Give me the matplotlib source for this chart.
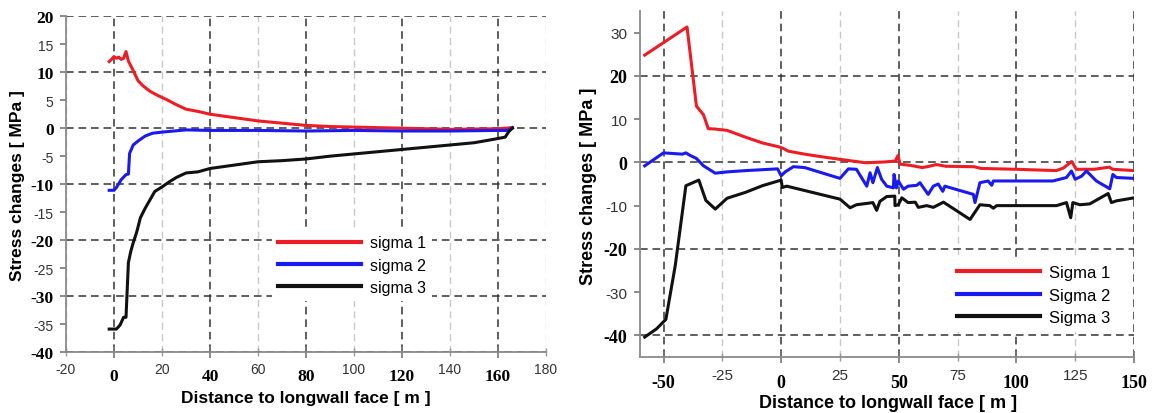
import matplotlib
matplotlib.use('Agg')
from matplotlib import pyplot as plt
from matplotlib.lines import Line2D
import numpy as np

# ---- left panel data (distance in m, stress change in MPa)
left_s1_x = [-2, -1, 0, 1, 2, 3, 4, 5, 6, 8, 10, 12, 15, 18, 22, 26, 30, 35, 40, 50, 60, 70, 80, 90, 100, 120, 140, 160, 166]
left_s1_y = [11.9, 12.3, 12.8, 12.5, 12.7, 12.3, 12.5, 13.7, 12.0, 10.3, 8.5, 7.6, 6.6, 5.9, 5.1, 4.2, 3.4, 3.0, 2.5, 1.9, 1.3, 0.9, 0.5, 0.3, 0.2, 0.0, -0.2, -0.1, 0.1]

left_s2_x = [-2, 0, 1, 3, 5, 6, 6.5, 8, 10, 13, 16, 20, 25, 30, 40, 60, 80, 100, 120, 140, 160, 164, 166]
left_s2_y = [-11.1, -11.1, -10.6, -9.2, -8.3, -8.2, -4.5, -3.0, -2.3, -1.4, -0.9, -0.7, -0.5, -0.3, -0.4, -0.4, -0.5, -0.4, -0.5, -0.5, -0.4, -0.4, 0.1]

left_s3_x = [-2, 1, 2.5, 4, 5, 6, 7, 8, 9.5, 11, 13, 15, 17, 20, 23, 26, 30, 35, 40, 50, 60, 70, 80, 90, 100, 110, 120, 130, 140, 150, 158, 163, 164.5, 166]
left_s3_y = [-35.9, -35.9, -35.2, -33.8, -33.8, -24, -22, -20.5, -18.5, -16, -14.3, -12.8, -11.3, -10.5, -9.6, -8.8, -8.0, -7.8, -7.2, -6.6, -6.0, -5.8, -5.5, -5.0, -4.6, -4.2, -3.8, -3.4, -3.0, -2.6, -2.0, -1.6, -0.6, 0.0]

left_labels = ['sigma 1', 'sigma 2', 'sigma 3']

# ---- right panel data
right_s1_x = [-58, -40, -36, -33, -31, -28, -23, -15, -8, -1, 1, 3, 10, 16, 25, 36, 44, 48.5, 49.7, 50.5, 55, 60, 63, 66, 70, 82, 85, 100, 117, 120, 123.5, 125.5, 133, 139.5, 141, 150]
right_s1_y = [24.8, 31.3, 13.0, 11.0, 7.8, 7.7, 7.4, 5.8, 4.5, 3.6, 3.2, 2.6, 1.9, 1.4, 0.7, -0.1, 0.1, 0.3, 1.6, -0.4, -0.7, -1.2, -0.9, -0.5, -0.9, -1.0, -1.4, -1.6, -1.9, -1.3, 0.2, -1.6, -1.6, -1.1, -1.6, -1.9]

right_s2_x = [-58, -50, -42, -40.5, -39, -36, -33, -28, -23, -15, -1.5, 0, 1.7, 5.2, 10, 25, 28.6, 32, 36.4, 37.8, 39, 40.9, 42.7, 44.9, 47.7, 48, 49, 49.8, 52, 54, 57.7, 59, 62.5, 64.7, 66.8, 68.7, 69.6, 81.7, 82.4, 84.5, 88, 89.5, 90.2, 115.5, 121.3, 123.4, 125, 127.7, 129.8, 134, 139.7, 141, 142.5, 150]
right_s2_y = [-0.8, 2.2, 1.9, 2.2, 1.7, 0.9, -0.8, -2.5, -2.2, -1.9, -1.5, -3.1, -2.2, -1.0, -1.2, -3.7, -1.5, -1.6, -5.5, -2.4, -4.7, -1.2, -3.9, -5.5, -5.9, -2.8, -5.9, -4.3, -6.2, -5.5, -5.3, -4.7, -7.4, -5.5, -5.0, -6.7, -5.5, -7.4, -9.3, -4.7, -4.3, -5.3, -4.3, -4.3, -3.5, -2.0, -3.9, -3.2, -2.0, -4.3, -6.1, -2.8, -3.5, -3.7]

right_s3_x = [-58, -53, -49, -45, -40.5, -35, -32, -28, -23, -15, -8, 0, 0.5, 2.4, 25, 29.3, 32, 39, 40.6, 42, 44.9, 48.3, 48.4, 49.8, 51.3, 54, 57, 58.3, 61.9, 64.7, 69, 80.3, 84.5, 88.7, 90.2, 91.6, 117, 121.3, 123.1, 124, 127, 131.2, 139, 140.4, 142.5, 150]
right_s3_y = [-40.4, -38.5, -36.3, -23.8, -5.4, -4.1, -8.8, -10.8, -8.3, -6.9, -5.4, -4.1, -5.8, -5.5, -8.5, -10.5, -9.8, -9.3, -11.1, -9.0, -7.9, -7.8, -10.0, -9.8, -8.2, -9.3, -9.2, -10.4, -10.0, -10.4, -9.2, -13.2, -9.8, -10.0, -10.6, -10.0, -10.0, -9.3, -12.8, -9.3, -9.8, -9.6, -7.2, -9.3, -8.9, -8.2]

right_labels = ['Sigma 1', 'Sigma 2', 'Sigma 3']

colors = ['#ee1c24', '#1a1af0', '#111111']

SANS = ['Liberation Sans', 'DejaVu Sans']
SERIF = ['Liberation Serif', 'DejaVu Serif']

fig = plt.figure(figsize=(11.55, 4.14), dpi=100)
ax1 = fig.add_axes([66/1155, 61/414, 480/1155, 335.7/414])
ax2 = fig.add_axes([640/1155, 56/414, 494/1155, 346/414])


def style_axes(ax, xmaj, xmin, ymaj, ymin, xlim, ylim, bold_size, sans_size, pads):
    ax.set_xlim(xlim)
    ax.set_ylim(ylim)
    for s in ['top', 'right']:
        ax.spines[s].set_visible(False)
    for s in ['left', 'bottom']:
        ax.spines[s].set_color('#8a8a8a')
        ax.spines[s].set_linewidth(1.3)
    ax.set_xticks(xmaj, [str(v) for v in xmaj], family=SERIF, weight='bold', size=bold_size)
    ax.set_xticks(xmin, [str(v) for v in xmin], minor=True, family=SANS, size=sans_size, color='#333333')
    ax.set_yticks(ymaj, [str(v) for v in ymaj], family=SERIF, weight='bold', size=bold_size)
    ax.set_yticks(ymin, [str(v) for v in ymin], minor=True, family=SANS, size=sans_size, color='#333333')
    ax.tick_params(axis='x', which='major', direction='inout', length=9, width=1.2, color='#777777', pad=pads[0])
    ax.tick_params(axis='x', which='minor', direction='inout', length=6, width=1.0, color='#999999', pad=pads[1])
    ax.tick_params(axis='y', which='both', direction='out', length=4, width=1.2, color='#777777', pad=5)
    ax.grid(which='major', color='#333333', linestyle=(0, (5, 3.2)), linewidth=1.1)
    ax.xaxis.grid(which='minor', color='#c8c8c8', linestyle=(0, (5, 3.2)), linewidth=1.0)
    ax.set_axisbelow(True)


# left panel
style_axes(ax1, [0, 40, 80, 120, 160], [-20, 20, 60, 100, 140, 180],
           [20, 10, 0, -10, -20, -30, -40], [15, 5, -5, -15, -25, -35],
           (-20, 180), (-40, 20), 12.5, 10, (7, 4))
ax1.plot(left_s1_x, left_s1_y, color=colors[0], lw=2.2)
ax1.plot(left_s2_x, left_s2_y, color=colors[1], lw=2.2)
ax1.plot(left_s3_x, left_s3_y, color=colors[2], lw=2.2)
ax1.set_xlabel('Distance to longwall face [ m ]', family=SANS, weight='bold', size=12.5)
ax1.set_ylabel('Stress changes [ MPa ]', family=SANS, weight='bold', size=12.5)
ax1.xaxis.set_label_coords(0.5, -0.113)
ax1.yaxis.set_label_coords(-0.085, 0.5)
h1 = [Line2D([], [], color=c, lw=3) for c in colors]
ax1.legend(h1, left_labels, loc='center', bbox_to_anchor=(0.596, 0.259),
           prop={'family': SANS, 'size': 11.5}, frameon=True, facecolor='white',
           edgecolor='none', framealpha=1, fancybox=False, handlelength=5.2,
           handletextpad=0.55, labelspacing=0.45)

# right panel
style_axes(ax2, [-50, 0, 50, 100, 150], [-25, 25, 75, 125],
           [20, 0, -20, -40], [30, 10, -10, -30],
           (-60, 150), (-45, 35), 13, 11, (8, 5))
ax2.plot(right_s1_x, right_s1_y, color=colors[0], lw=2.2)
ax2.plot(right_s2_x, right_s2_y, color=colors[1], lw=2.2)
ax2.plot(right_s3_x, right_s3_y, color=colors[2], lw=2.2)
ax2.set_xlabel('Distance to longwall face [ m ]', family=SANS, weight='bold', size=13)
ax2.set_ylabel('Stress changes [ MPa ]', family=SANS, weight='bold', size=13)
ax2.xaxis.set_label_coords(0.502, -0.106)
ax2.yaxis.set_label_coords(-0.087, 0.497)
h2 = [Line2D([], [], color=c, lw=3) for c in colors]
ax2.legend(h2, right_labels, loc='center', bbox_to_anchor=(0.797, 0.179),
           prop={'family': SANS, 'size': 12}, frameon=True, facecolor='white',
           edgecolor='none', framealpha=1, fancybox=False, handlelength=5.0,
           handletextpad=0.57, labelspacing=0.45)

fig.savefig('out.png', dpi=100)
